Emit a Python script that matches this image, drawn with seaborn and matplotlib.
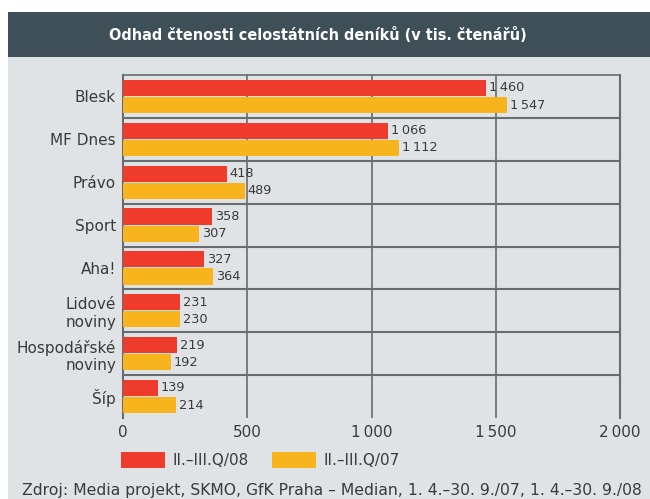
import matplotlib
matplotlib.use("Agg")
import matplotlib.pyplot as plt
import matplotlib.patches as mpatches
import seaborn as sns
import pandas as pd

categories = ["Blesk", "MF Dnes", "Právo", "Sport", "Aha!", "Lidové\nnoviny", "Hospodářské\nnoviny", "Šíp"]
q08 = [1460, 1066, 418, 358, 327, 231, 219, 139]
q07 = [1547, 1112, 489, 307, 364, 230, 192, 214]
series_names = ["II.–III.Q/08", "II.–III.Q/07"]
x_ticks = [0, 500, 1000, 1500, 2000]
x_tick_labels = ["0", "500", "1\u2009000", "1\u2009500", "2\u2009000"]
title = "Odhad čtenosti celostátních deníků (v tis. čtenářů)"
source = "Zdroj: Media projekt, SKMO, GfK Praha – Median, 1. 4.–30. 9./07, 1. 4.–30. 9./08"

RED = "#ee3b2b"
ORANGE = "#f7b41c"
PANEL = "#dfe3e6"
BAR = "#3e4f58"
TXT = "#3a3a3a"
GRID = "#676c6f"

df = pd.DataFrame({
    "deník": categories * 2,
    "období": [series_names[0]] * len(categories) + [series_names[1]] * len(categories),
    "hodnota": q08 + q07,
})

sns.set_theme(style="white")
FONT = ["DejaVu Sans"]
plt.rcParams["font.family"] = FONT

fig = plt.figure(figsize=(6.5, 4.99), dpi=100)
fig.patch.set_facecolor("white")
# gray panel and title bar
fig.patches.append(mpatches.Rectangle((8 / 650, 0), 1 - 8 / 650, 1 - 12 / 499,
                                      transform=fig.transFigure, facecolor=PANEL,
                                      edgecolor="none", zorder=-3))
fig.patches.append(mpatches.Rectangle((8 / 650, 1 - 57 / 499), 1 - 8 / 650, 45 / 499,
                                      transform=fig.transFigure, facecolor=BAR,
                                      edgecolor="none", zorder=-2))
fig.text(318 / 650, 1 - 35 / 499, title, color="white", ha="center", va="center",
         fontsize=11.6, family=["DejaVu Sans"], fontstretch="condensed", fontweight="bold")

ax = fig.add_axes([123 / 650, 1 - 418 / 499, (620 - 123) / 650, (418 - 75) / 499])
ax.set_facecolor(PANEL)

sns.barplot(data=df, y="deník", x="hodnota", hue="období", orient="h",
            palette=[RED, ORANGE], width=0.8, gap=0.06, saturation=1,
            linewidth=0, edgecolor="none",
            ax=ax, legend=True, zorder=3)

ax.set_xlim(0, 2000)
ax.set_ylim(len(categories) - 0.5, -0.5)
ax.set_xticks(x_ticks)
ax.set_xticklabels(x_tick_labels)
ax.set_xlabel("")
ax.set_ylabel("")
ax.tick_params(axis="both", length=0, labelsize=11, labelcolor=TXT)
ax.tick_params(axis="x", pad=5)
ax.tick_params(axis="y", pad=5)

for x in x_ticks[1:-1]:
    ax.axvline(x, color=GRID, lw=1.2, zorder=1)
for i in range(len(categories) - 1):
    ax.axhline(i + 0.5, color=GRID, lw=1.5, zorder=1)

for s in ["left", "right", "top"]:
    ax.spines[s].set_visible(True)
    ax.spines[s].set_color(GRID)
ax.spines["left"].set_linewidth(1.5)
ax.spines["right"].set_linewidth(1.5)
ax.spines["top"].set_linewidth(1.2)
ax.spines["bottom"].set_visible(False)

for cont in ax.containers:
    labels = [f"{int(v):,}".replace(",", "\u2009") for v in cont.datavalues]
    ax.bar_label(cont, labels=labels, padding=2, fontsize=9.3, color=TXT)

handles, labs = ax.get_legend_handles_labels()
for h in handles:
    h.set_edgecolor("none")
ax.get_legend().remove()
fig.legend(handles, labs, loc="center left", bbox_to_anchor=(113 / 650, 1 - 460 / 499),
           ncol=2, frameon=False, fontsize=11, handlelength=2.9, handleheight=1.2,
           handletextpad=0.5, columnspacing=1.5, borderpad=0, labelcolor=TXT)

fig.text(22 / 650, 1 - 490 / 499, source, ha="left", va="center", fontsize=11.25, color=TXT)

fig.savefig("out.png", dpi=100, facecolor=fig.get_facecolor())
